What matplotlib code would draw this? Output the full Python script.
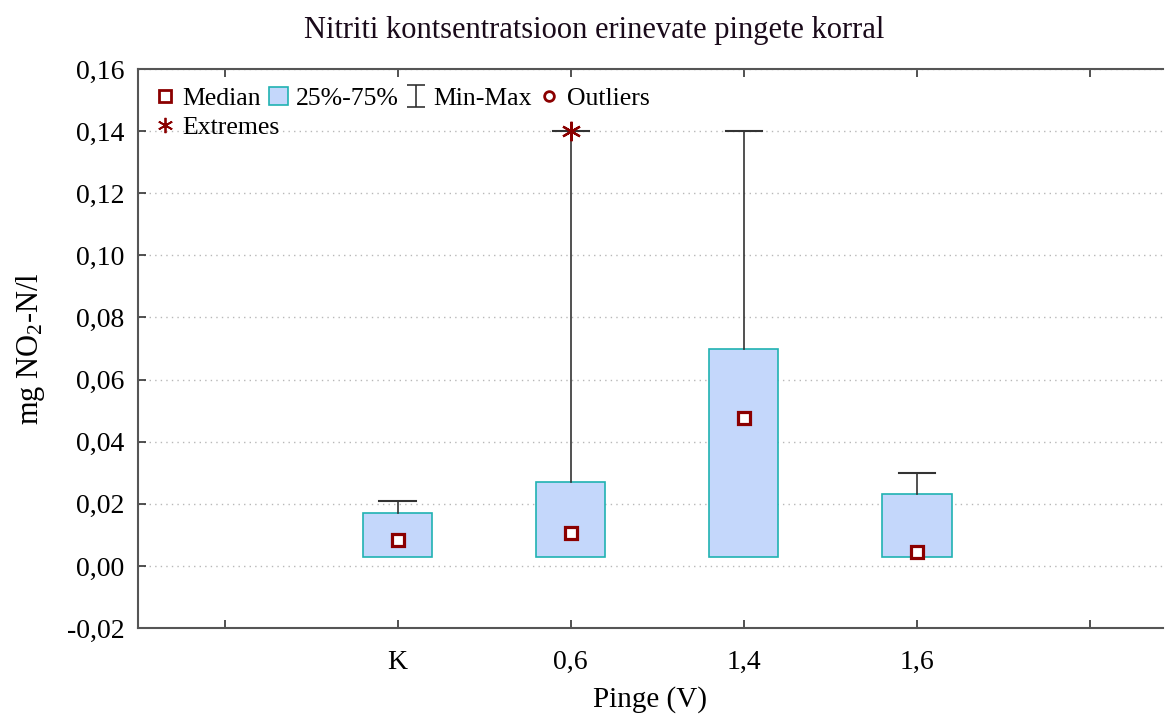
import matplotlib
matplotlib.use("Agg")
import matplotlib.pyplot as plt
from matplotlib.lines import Line2D
from matplotlib.patches import Patch
from matplotlib.path import Path
from matplotlib.ticker import FuncFormatter

plt.rcParams['font.family'] = ['Liberation Serif', 'DejaVu Serif']
plt.rcParams['mathtext.fontset'] = 'custom'
plt.rcParams['mathtext.rm'] = 'Liberation Serif'
plt.rcParams['mathtext.default'] = 'regular'

# values (mg NO2-N/l)
categories = ['K', '0,6', '1,4', '1,6']
positions = [1, 2, 3, 4]
q1 = [0.003, 0.003, 0.003, 0.003]
q3 = [0.017, 0.027, 0.070, 0.023]
medians = [0.0085, 0.0105, 0.0475, 0.0045]
mins = [0.003, 0.003, 0.003, 0.003]
maxs = [0.021, 0.140, 0.140, 0.030]
extremes = [[], [0.140], [], []]

box_face = '#c4d7fb'
box_edge = '#20b2b2'
dark_red = '#8b0000'

fig = plt.figure(figsize=(11.65, 7.18), dpi=100)
ax = fig.add_axes([0.1185, 0.1253, 0.8795, 0.7786])

stats = []
for i in range(len(categories)):
    stats.append(dict(med=medians[i], q1=q1[i], q3=q3[i], whislo=mins[i],
                      whishi=maxs[i], fliers=[], label=categories[i]))

bp = ax.bxp(stats, positions=positions, widths=0.40, patch_artist=True,
            showfliers=False, showcaps=True,
            boxprops=dict(facecolor=box_face, edgecolor=box_edge, linewidth=1.2),
            whiskerprops=dict(color='#333333', linewidth=1.2),
            capprops=dict(color='#333333', linewidth=1.5),
            medianprops=dict(linewidth=0), capwidths=0.21)
# only the upper caps are visible in the original
for cap in bp['caps'][0::2]:
    cap.set_visible(False)

ax.plot(positions, medians, ls='none', marker='s', ms=8.5, mfc='white',
        mec=dark_red, mew=2.3, zorder=4)

for p, ex in zip(positions, extremes):
    if ex:
        ax.plot([p] * len(ex), ex, ls='none', marker=(6, 2, 0), ms=14,
                mec=dark_red, mew=1.6, zorder=5)

ax.set_xlim(-0.5, 5.42)
ax.set_ylim(-0.02, 0.16)
ax.set_xticks(range(0, 6))
ax.set_xticklabels([''] + categories + [''])
ax.set_yticks([-0.02 + 0.02 * k for k in range(10)])
ax.yaxis.set_major_formatter(FuncFormatter(lambda v, p: f'{v:.2f}'.replace('.', ',')))
ax.tick_params(direction='in', length=6, width=1.2, labelsize=20, color='#333333',
               top=True, right=False)
ax.tick_params(axis='x', pad=16)
ax.tick_params(axis='y', pad=10)
ax.yaxis.grid(True, linestyle=(0, (1, 3)), color='#b8b8b8', linewidth=1)
ax.set_axisbelow(True)
for s in ['left', 'bottom', 'top']:
    ax.spines[s].set_color('#555555')
    ax.spines[s].set_linewidth(1.5)
ax.spines['right'].set_visible(False)

ax.set_xlabel('Pinge (V)', fontsize=21, labelpad=8)
ax.set_ylabel('mg NO$_2$-N/l', fontsize=22, labelpad=14)
fig.suptitle('Nitriti kontsentratsioon erinevate pingete korral', fontsize=22,
             x=0.51, y=0.978, color='#1a0a1a')

minmax_path = Path([(-0.8, -1), (0.8, -1), (0, -1), (0, 1), (-0.8, 1), (0.8, 1)],
                   [Path.MOVETO, Path.LINETO, Path.MOVETO, Path.LINETO,
                    Path.MOVETO, Path.LINETO])
row1 = [
    Line2D([], [], ls='none', marker='s', ms=8, mfc='white', mec=dark_red, mew=2),
    Patch(facecolor=box_face, edgecolor=box_edge, linewidth=1.2),
    Line2D([], [], ls='none', marker=minmax_path, ms=16, mec='#333333', mew=1.2),
    Line2D([], [], ls='none', marker='o', ms=7, mfc='white', mec=dark_red, mew=2),
]
row1_labels = ['Median', '25%-75%', 'Min-Max', 'Outliers']
row2 = [Line2D([], [], ls='none', marker=(6, 2, 0), ms=11, mec=dark_red, mew=1.3)]
row2_labels = ['Extremes']

leg_kw = dict(loc='upper left', frameon=False, fontsize=18.5, handlelength=0.74,
              handletextpad=0.31, columnspacing=0.3, borderpad=0, borderaxespad=0)
leg1 = ax.legend(row1, row1_labels, ncol=4, bbox_to_anchor=(0.017, 0.968), **leg_kw)
ax.add_artist(leg1)
ax.legend(row2, row2_labels, ncol=1, bbox_to_anchor=(0.017, 0.916), **leg_kw)

fig.savefig('out.png', dpi=100)
